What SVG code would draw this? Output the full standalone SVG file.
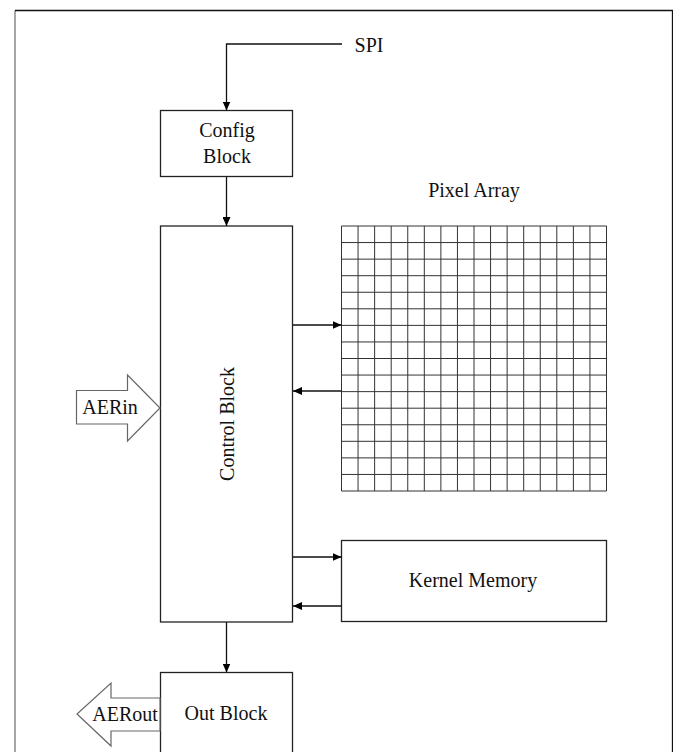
<svg xmlns="http://www.w3.org/2000/svg" width="673" height="752" viewBox="0 0 673 752">
<style>
text{font-family:'Liberation Serif','Times New Roman',serif;font-size:20px;fill:#111;text-anchor:middle}
.box{fill:#fff;stroke:#222;stroke-width:1.3}
.conn{fill:none;stroke:#111;stroke-width:1.3}
.grid{fill:none;stroke:#333;stroke-width:1}
.fat{fill:#fff;stroke:#666;stroke-width:1.2}
</style>
<defs>
<marker id="ah" markerUnits="userSpaceOnUse" markerWidth="9" markerHeight="8" refX="9" refY="4" orient="auto">
<path d="M0,0 L9,4 L0,8 z" fill="#000"/>
</marker>
</defs>
<rect width="673" height="752" fill="#fff"/>
<g id="frame">
<path d="M15,752 V10.5" fill="none" stroke="#888" stroke-width="1.5"/>
<path d="M15,10.5 H672.5 V752" fill="none" stroke="#111" stroke-width="1.3"/>
</g>
<g id="spi"><text x="369" y="52">SPI</text></g>
<g id="config">
<rect class="box" x="160.5" y="110.5" width="132" height="66"/>
<text x="227" y="137">Config</text>
<text x="227" y="163">Block</text>
</g>
<g id="control">
<rect class="box" x="160.5" y="226" width="132" height="396"/>
<text transform="translate(234,424) rotate(-90)">Control Block</text>
</g>
<g id="pixel-array">
<text x="474" y="197">Pixel Array</text>
<path class="grid" d="M341.5,226V491M358.06,226V491M374.63,226V491M391.19,226V491M407.75,226V491M424.31,226V491M440.88,226V491M457.44,226V491M474,226V491M490.56,226V491M507.13,226V491M523.69,226V491M540.25,226V491M556.81,226V491M573.38,226V491M589.94,226V491M606.5,226V491
M341.5,226H606.5M341.5,242.56H606.5M341.5,259.13H606.5M341.5,275.69H606.5M341.5,292.25H606.5M341.5,308.81H606.5M341.5,325.38H606.5M341.5,341.94H606.5M341.5,358.5H606.5M341.5,375.06H606.5M341.5,391.63H606.5M341.5,408.19H606.5M341.5,424.75H606.5M341.5,441.31H606.5M341.5,457.88H606.5M341.5,474.44H606.5M341.5,491H606.5"/>
</g>
<g id="kernel-memory">
<rect class="box" x="341.5" y="540.5" width="265" height="81" stroke="#444"/>
<text x="473" y="587">Kernel Memory</text>
</g>
<g id="out-block">
<rect class="box" x="160.5" y="672.5" width="132" height="100"/>
<text x="226" y="720">Out Block</text>
</g>
<g id="aerin">
<polygon class="fat" points="76.5,390.5 127.5,390.5 127.5,375 160,408 127.5,441 127.5,424 76.5,424"/>
<text x="110" y="414">AERin</text>
</g>
<g id="aerout">
<polygon class="fat" points="160,698 111,698 111,683 77,714 111,746 111,731 160,731"/>
<text x="125" y="721">AERout</text>
</g>
<g id="connectors">
<path class="conn" d="M342,44 H226.5 V110.5" marker-end="url(#ah)"/>
<path class="conn" d="M226.5,177 V226" marker-end="url(#ah)"/>
<path class="conn" d="M293,325 H341.5" marker-end="url(#ah)"/>
<path class="conn" d="M341.5,391 H293" marker-end="url(#ah)"/>
<path class="conn" d="M293,557 H341.5" marker-end="url(#ah)"/>
<path class="conn" d="M341.5,606 H293" marker-end="url(#ah)"/>
<path class="conn" d="M226.5,622 V672.5" marker-end="url(#ah)"/>
</g>
</svg>
